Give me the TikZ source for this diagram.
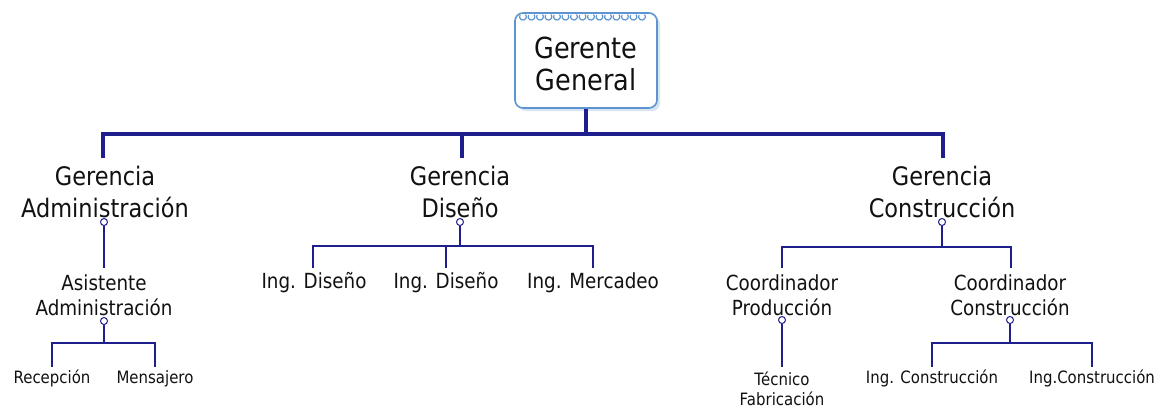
\documentclass[tikz,border=0pt]{standalone}
\usepackage{fontspec}
\setmainfont{DejaVu Sans}[FakeStretch=0.88]
\definecolor{navy}{HTML}{1E1E8C}
\definecolor{boxblue}{HTML}{5E95CF}
\definecolor{txt}{HTML}{111111}
\begin{document}
\begin{tikzpicture}[x=1pt,y=-1pt,
  lA/.style={anchor=base,inner sep=0pt,text=txt,font=\fontsize{29}{34}\selectfont},
  lB/.style={anchor=base,inner sep=0pt,text=txt,font=\fontsize{25.5}{31}\selectfont},
  lC/.style={anchor=base,inner sep=0pt,text=txt,font=\fontsize{20.8}{25}\selectfont},
  lD/.style={anchor=base,inner sep=0pt,text=txt,font=\fontsize{17}{20}\selectfont},
  thickline/.style={draw=navy,line width=3.8pt},
  thinline/.style={draw=navy,line width=2pt},
  knob/.style={circle,draw=navy,fill=white,line width=1pt,minimum size=7pt,inner sep=0pt}
]
\useasboundingbox (0,0) rectangle (1169,410);
\fill[white] (0,0) rectangle (1169,410);

% top box
\fill[boxblue!25,rounded corners=8pt] (518,16) rectangle (660,111);
\node[draw=boxblue,line width=1.6pt,fill=white,rounded corners=8pt,
  minimum width=142pt,minimum height=95pt,inner sep=0pt] (gg) at (586,60.5) {};
\foreach \i in {0,...,14}{
  \draw[boxblue,line width=1.2pt] ({523+\i*8.5-3},15)
     arc[start angle=210,end angle=-40,radius=3.4];
}
\node[lA] (gg1) at (586,58) {Gerente};
\node[lA] (gg2) at (586,90) {General};

% first bar
\coordinate (j0) at (586,134);
\coordinate (ja) at (103,134);
\coordinate (jc) at (943,134);
\coordinate (jb) at (462,134);
\draw[thickline] (gg.south) -- (j0);
\draw[thickline,line cap=rect] (ja) -- (jc);
\coordinate (da) at (103,158);
\coordinate (db) at (462,158);
\coordinate (dc) at (943,158);
\draw[thickline] (ja) -- (da);
\draw[thickline] (jb) -- (db);
\draw[thickline] (jc) -- (dc);

% Gerencia level
\node[lB] (ga1) at (105,185) {Gerencia};
\node[lB] (ga2) at (105,217) {Administración};
\node[lB] (gd1) at (460,185) {Gerencia};
\node[lB] (gd2) at (460,217) {Diseño};
\node[lB] (gc1) at (942,185) {Gerencia};
\node[lB] (gc2) at (942,217) {Construcción};

% Administración branch
\node[knob] (ka) at (104,222) {};
\node[lC] (aa1) at (104,290) {Asistente};
\node[lC] (aa2) at (104,315) {Administración};
\coordinate (aatop) at (104,268);
\draw[thinline] (ka) -- (aatop);
\node[knob] (kaa) at (104,321) {};
\coordinate (ab) at (104,343);
\coordinate (abl) at (52,343);
\coordinate (abr) at (155,343);
\coordinate (rtop) at (52,367);
\coordinate (mtop) at (155,367);
\draw[thinline] (kaa) -- (ab);
\draw[thinline] (rtop) -- (abl) -- (abr) -- (mtop);
\node[lD] (rec) at (52,383) {Recepción};
\node[lD] (men) at (155,383) {Mensajero};

% Diseño branch
\node[knob] (kd) at (460,222) {};
\coordinate (dbar) at (460,246);
\coordinate (dbl) at (313,246);
\coordinate (dbr) at (593,246);
\coordinate (dbm) at (446,246);
\coordinate (id1t) at (313,268);
\coordinate (id2t) at (446,268);
\coordinate (imt) at (593,268);
\draw[thinline] (kd) -- (dbar);
\draw[thinline] (id1t) -- (dbl) -- (dbr) -- (imt);
\draw[thinline] (dbm) -- (id2t);
\node[lC] (id1) at (314,288) {Ing. Diseño};
\node[lC] (id2) at (446,288) {Ing. Diseño};
\node[lC] (imk) at (593,288) {Ing. Mercadeo};

% Construcción branch
\node[knob] (kc) at (942,222) {};
\coordinate (cbar) at (942,247);
\coordinate (cbl) at (782,247);
\coordinate (cbr) at (1011,247);
\coordinate (cpt) at (782,268);
\coordinate (cct) at (1011,268);
\draw[thinline] (kc) -- (cbar);
\draw[thinline] (cpt) -- (cbl) -- (cbr) -- (cct);
\node[lC] (cp1) at (782,290) {Coordinador};
\node[lC] (cp2) at (782,315) {Producción};
\node[lC] (cc1) at (1010,290) {Coordinador};
\node[lC] (cc2) at (1010,315) {Construcción};

\node[knob] (kcp) at (782,320) {};
\coordinate (tft) at (782,367);
\draw[thinline] (kcp) -- (tft);
\node[lD] (tf1) at (782,385) {Técnico};
\node[lD] (tf2) at (782,405) {Fabricación};

\node[knob] (kcc) at (1010,320) {};
\coordinate (ccb) at (1010,343);
\coordinate (ccl) at (932,343);
\coordinate (ccr) at (1092,343);
\coordinate (ic1t) at (932,367);
\coordinate (ic2t) at (1092,367);
\draw[thinline] (kcc) -- (ccb);
\draw[thinline] (ic1t) -- (ccl) -- (ccr) -- (ic2t);
\node[lD] (ic1) at (932,383) {Ing. Construcción};
\node[lD] (ic2) at (1092,383) {Ing.Construcción};
\end{tikzpicture}
\end{document}
